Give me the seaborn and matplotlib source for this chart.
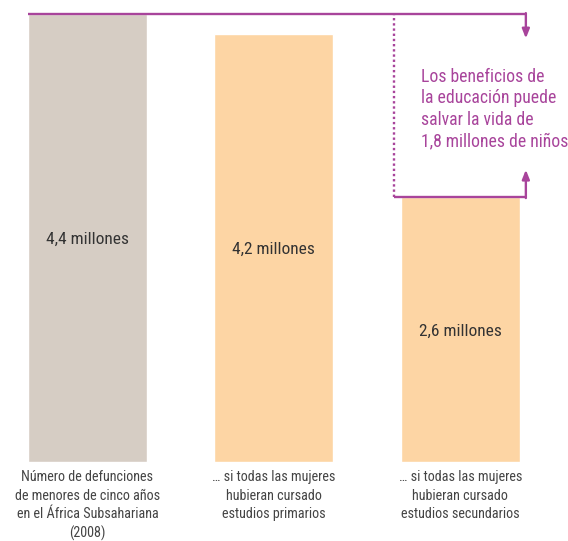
import matplotlib
matplotlib.use("Agg")
import matplotlib.pyplot as plt
import seaborn as sns
import pandas as pd

categories = [
    "Número de defunciones\nde menores de cinco años\nen el África Subsahariana\n(2008)",
    "… si todas las mujeres\nhubieran cursado\nestudios primarios",
    "… si todas las mujeres\nhubieran cursado\nestudios secundarios",
]
values = [4.4, 4.2, 2.6]
value_labels = ["4,4 millones", "4,2 millones", "2,6 millones"]
colors = ["#D6CDC4", "#FDD5A4", "#FDD5A4"]
note = "Los beneficios de\nla educación puede\nsalvar la vida de\n1,8 millones de niños"

sns.set_theme(style="white")
plt.rcParams["font.family"] = ["Roboto Condensed", "DejaVu Sans"]

purple = "#A8449B"
fig = plt.figure(figsize=(5.68, 5.41), dpi=100)
ax = fig.add_axes([0, 79 / 541, 1, 462 / 541])

df = pd.DataFrame({"cat": categories, "val": values})
sns.barplot(data=df, x="cat", y="val", hue="cat", palette=colors, legend=False,
            width=0.638, saturation=1, ax=ax)

ax.set_xlim(-0.469, 2.577)
ax.set_ylim(0, 4.537)
for s in ax.spines.values():
    s.set_visible(False)
ax.set_yticks([])
ax.set_xlabel("")
ax.set_ylabel("")
ax.tick_params(axis="x", length=0, pad=6, labelsize=10.2, labelcolor="#444444")
for t in ax.get_xticklabels():
    t.set_linespacing(1.38)

for i, (v, lab) in enumerate(zip(values, value_labels)):
    ax.text(i, v / 2, lab, ha="center", va="center_baseline", fontsize=12.5, color="#333333")

# annotation lines
hw = 0.638 / 2
x_left = 0 - hw
x_right = 2.351
x_dot = 1.644
lw = 1.7
ax.plot([x_left, x_right], [values[0], values[0]], color=purple, lw=lw, solid_capstyle="butt")
ax.annotate("", xy=(x_right, 4.16), xytext=(x_right, values[0] + 0.008),
            arrowprops=dict(arrowstyle="-|>,head_length=0.45,head_width=0.18", color=purple, lw=lw,
                            shrinkA=0, shrinkB=0))
ax.plot([x_dot, x_dot], [values[2], values[0]], color=purple, lw=lw, ls=(0, (1, 1.2)))
ax.plot([x_dot, x_right], [values[2], values[2]], color=purple, lw=lw, solid_capstyle="butt")
ax.annotate("", xy=(x_right, 2.87), xytext=(x_right, values[2] - 0.008),
            arrowprops=dict(arrowstyle="-|>,head_length=0.45,head_width=0.18", color=purple, lw=lw,
                            shrinkA=0, shrinkB=0))

ax.text(-0.469 + 421 / 186.5, (462 - 68) / 101.82, note, ha="left", va="top",
        fontsize=12.7, color=purple, linespacing=1.24)

fig.savefig("out.png", dpi=100)
